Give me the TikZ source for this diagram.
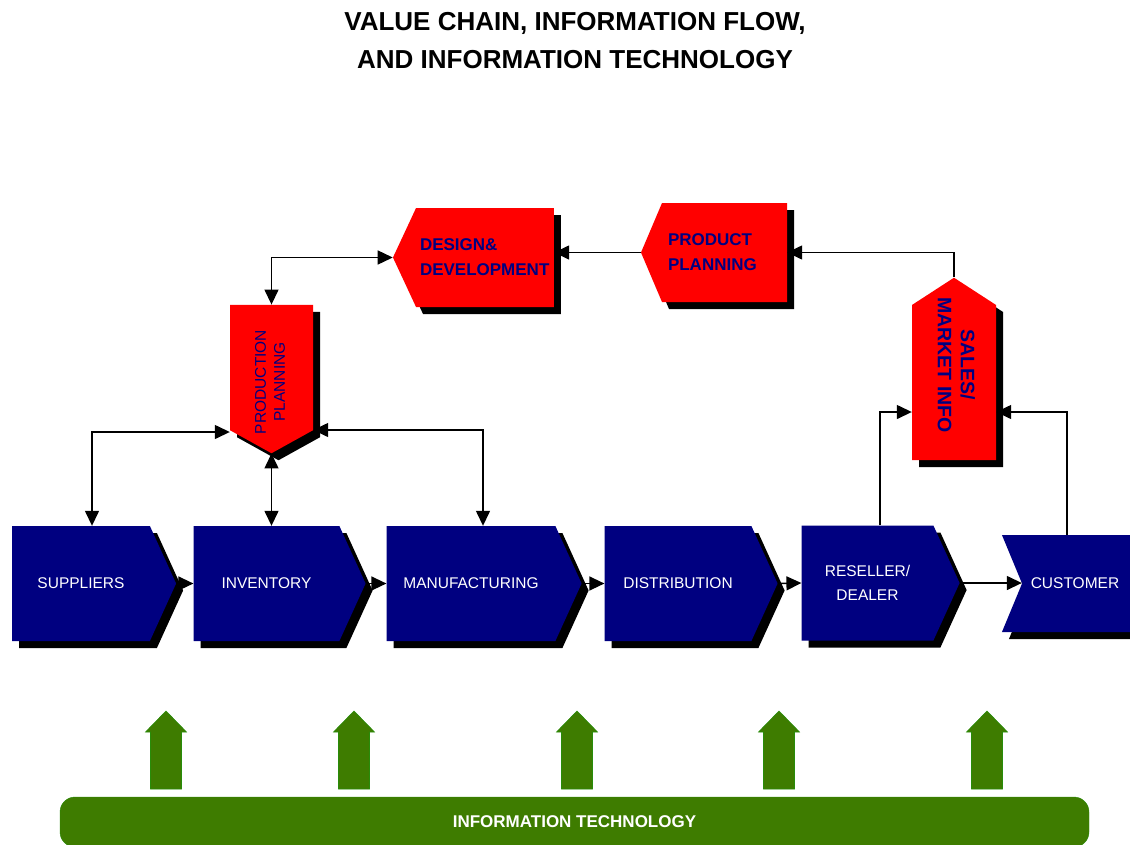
\documentclass[tikz,border=0pt]{standalone}
\usepackage{fontspec}
\setmainfont{Liberation Sans}
\usetikzlibrary{shapes.symbols,shadows,arrows.meta}

\definecolor{navy}{RGB}{0,0,128}
\definecolor{itgreen}{RGB}{62,124,0}
\definecolor{itedge}{RGB}{40,140,10}

\tikzset{
  castshadow/.style = {drop shadow = {shadow xshift = 7pt, shadow yshift = -7pt,
    fill = black, opacity = 1}},
  stage/.style = {signal, signal to = east, fill = navy, text = white,
    minimum height = 115, signal pointer angle = 131, inner sep = 0pt,
    align = center, font = \fontsize{15.5}{24}\selectfont, castshadow},
  idea/.style = {signal, fill = red, text = navy, inner sep = 0pt,
    font = \bfseries\fontsize{17}{25}\selectfont, castshadow},
  link/.style = {line width = 1.4pt, -{Triangle[length = 15pt, width = 14pt]}},
  twoway/.style = {line width = 1.4pt,
    {Triangle[length = 15pt, width = 14pt]}-{Triangle[length = 15pt, width = 14pt]}},
  itarrow/.style = {fill = itgreen, draw = itedge, line width = 0.6pt}
}

\begin{document}
\begin{tikzpicture}[x = 1pt, y = -1pt]
    \useasboundingbox (0, 0) rectangle (1130, 844);

    \node[font = \bfseries\fontsize{26}{38}\selectfont, align = center]
      (title) at (575, 41) {VALUE CHAIN, INFORMATION FLOW,\\AND INFORMATION TECHNOLOGY};

    \node[stage, minimum width = 164] (sup) at (81, 583.5) {SUPPLIERS};
    \node[stage, minimum width = 172] (inv) at (266.5, 583.5) {INVENTORY};
    \node[stage, minimum width = 195] (man) at (471, 583.5) {MANUFACTURING};
    \node[stage, minimum width = 173] (dis) at (678, 583.5) {DISTRIBUTION};
    \node[stage, minimum width = 158] (res) at (867.5, 583) {RESELLER/\\DEALER};
    \node[stage, signal to = nowhere, signal from = west, signal pointer angle = 135,
      minimum width = 146, minimum height = 97] (cus) at (1085, 583.5) {CUSTOMER\hspace*{20pt}};

    \node[idea, signal to = west, signal pointer angle = 130, minimum width = 161,
      minimum height = 99, text width = 130, align = left]
      (dd) at (485, 257.5) {DESIGN\&\\DEVELOPMENT};
    \node[idea, signal to = west, signal pointer angle = 134, minimum width = 146,
      minimum height = 99, text width = 113, align = left]
      (pl) at (724.5, 252.5) {PRODUCT\\PLANNING};
    \node[idea, signal to = south, signal pointer angle = 122, minimum width = 83,
      minimum height = 136, font = \fontsize{15.5}{19}\selectfont]
      (pp) at (271.5, 367.5)
      {\rotatebox{90}{\hspace*{-14.5pt}\begin{tabular}{@{}c@{}}PRODUCTION\\PLANNING\end{tabular}\hspace*{14.5pt}}};
    \node[idea, signal to = north, signal pointer angle = 114, minimum width = 84,
      minimum height = 170, font = \bfseries\fontsize{19.5}{23}\selectfont]
      (smi) at (954, 382.5)
      {\rotatebox{-90}{\hspace*{-17.5pt}\begin{tabular}{@{}c@{}}SALES/\\MARKET INFO\end{tabular}\hspace*{17.5pt}}};

    \draw[link] (sup.east) -- (inv.west);
    \draw[link] (inv.east) -- (man.west);
    \draw[link] (man.east) -- (dis.west);
    \draw[link] (dis.east) -- (res.west);
    \draw[link] (res.east) -- (res.east -| cus.west);

    \draw[link] (pl.west) -- (pl.west -| dd.east);
    \draw[link] (smi.north) |- (pl.east);
    \draw[twoway] (dd.west) -| (pp.north);
    \draw[twoway] (pp.south) -- (pp.south |- inv.north);
    \draw[twoway] ([yshift = -64.5pt]pp.west) -| ([xshift = 11pt]sup.north);
    \draw[twoway] ([yshift = -62.5pt]pp.east) -| ([xshift = 12pt]man.north);
    \draw[link] ([xshift = 12.5pt]res.north) |- ([yshift = -29.5pt]smi.west);
    \draw[link] ([xshift = -18pt]cus.north) |- ([yshift = -29.5pt]smi.east);

    \foreach \x in {166, 354, 577, 779, 987}
      \filldraw[itarrow] (\x - 15.5, 789) -- (\x - 15.5, 732) -- (\x - 20.5, 732)
        -- (\x, 711) -- (\x + 20.5, 732) -- (\x + 15.5, 732) -- (\x + 15.5, 789) -- cycle;

    \node[fill = itgreen, draw = itedge, rounded corners = 15pt,
      minimum width = 1029, minimum height = 50, text = white,
      font = \bfseries\fontsize{17}{20}\selectfont]
      (itbar) at (574.5, 822) {INFORMATION TECHNOLOGY};
\end{tikzpicture}
\end{document}
